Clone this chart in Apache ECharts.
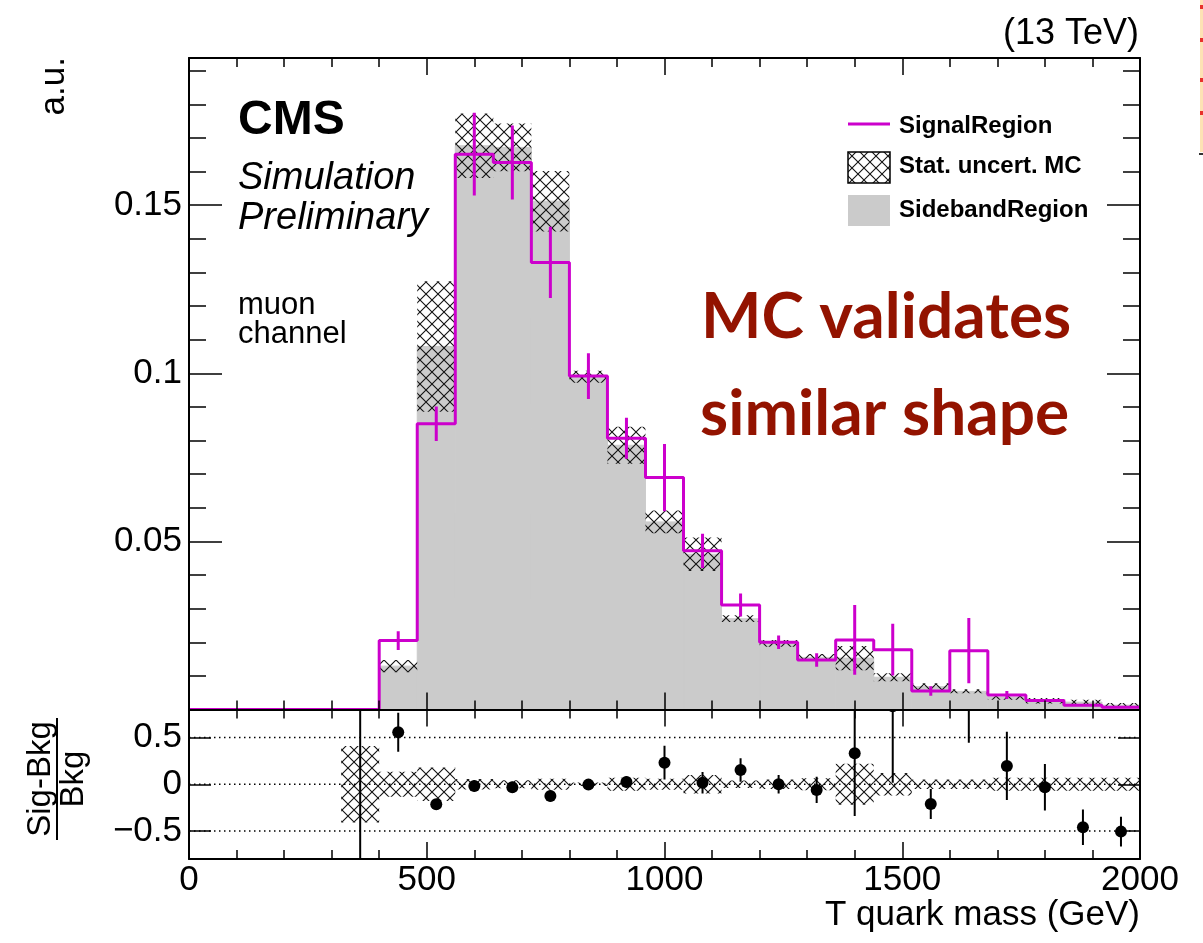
<!DOCTYPE html>
<html>
<head>
<meta charset="utf-8">
<script src="https://cdn.jsdelivr.net/npm/echarts@6/dist/echarts.min.js"></script>
<style>
html,body{margin:0;padding:0;background:#fff;}
#c{width:1203px;height:943px;}
</style>
</head>
<body>
<div id="c"></div>
<script>
// ---------------- data ----------------
const binEdges = [0,80,160,240,320,400,480,560,640,720,800,880,960,1040,1120,1200,1280,1360,1440,1520,1600,1680,1760,1840,1920,2000];
const signalRegion = [0,0,0,0,0,0.0205,0.0850,0.1652,0.1627,0.1330,0.0992,0.0807,0.0690,0.0472,0.0311,0.0200,0.0147,0.0207,0.0178,0.0055,0.0175,0.0043,0.0027,0.0013,0.0007];
const signalErr = [0,0,0,0,0,0.0028,0.0051,0.0123,0.0110,0.0106,0.0068,0.0061,0.0100,0.0051,0.0034,0.0020,0.0020,0.0104,0.0077,0.0014,0.0097,0.0012,0.0004,0.0002,0.0001];
const sidebandRegion = [0,0,0,0,0.0003,0.0129,0.1080,0.1677,0.1672,0.1512,0.0990,0.0786,0.0558,0.0462,0.0270,0.0197,0.0155,0.0153,0.0096,0.0068,0.0054,0.0037,0.0026,0.0022,0.0013];
const statUncertMC = [0,0,0,0,0.0001,0.0018,0.0194,0.0096,0.0071,0.0090,0.0018,0.0055,0.0034,0.0050,0.0010,0.0010,0.0010,0.0036,0.0012,0.0010,0.0006,0.0008,0.0008,0.0007,0.0006];
const ratioValue = [null,null,null,null,-1.0,0.557,-0.214,-0.018,-0.032,-0.125,-0.004,0.025,0.231,0.017,0.153,0.000,-0.061,0.332,0.835,-0.211,2.2,0.196,-0.032,-0.460,-0.507];
const ratioErr = [null,null,null,null,2.0,0.209,0.05,0.06,0.06,0.06,0.04,0.06,0.18,0.115,0.125,0.10,0.14,0.672,0.82,0.16,1.755,0.365,0.25,0.19,0.16];
const ratioBand = [0,0,0,0,0.41,0.135,0.18,0.057,0.042,0.06,0.02,0.07,0.06,0.10,0.04,0.05,0.065,0.22,0.12,0.05,0.05,0.07,0.07,0.07,0.07];
const ratioRefLines = [0.5, 0, -0.5];
const ratioTicks = [-0.5, 0, 0.5];
const X_MIN = 0, X_MAX = 2000, Y_MAX = 0.1938, R_MIN = -0.8, R_MAX = 0.8;

// ---------------- styles ----------------
const FONT = '"Liberation Sans", Arial, Helvetica, sans-serif';
const MAG = '#cc00cc';
const GRAY = '#cbcbcb';
const hatchCanvas = (function(){
  const s = 12, c = document.createElement('canvas'); c.width = s; c.height = s;
  const g = c.getContext('2d'); g.strokeStyle = '#111'; g.lineWidth = 1.1;
  g.beginPath();
  g.moveTo(-2,-2); g.lineTo(s+2,s+2);
  g.moveTo(s+2,-2); g.lineTo(-2,s+2);
  g.stroke();
  return c;
})();
const hatchFill = {image: hatchCanvas, repeat: 'repeat'};

// ---------------- derived tables ----------------
const grayData = [], hatchData = [], stepData = [], sigErrData = [], bandData = [], ratioData = [];
signalRegion.forEach((v, i) => {
  const lo = binEdges[i], hi = binEdges[i+1], c = (lo + hi) / 2;
  stepData.push([lo, v]); stepData.push([hi, v]);
  if (sidebandRegion[i] > 0) grayData.push([lo, hi, 0, sidebandRegion[i]]);
  if (statUncertMC[i] > 0) hatchData.push([lo, hi, sidebandRegion[i] - statUncertMC[i], sidebandRegion[i] + statUncertMC[i]]);
  if (v > 0) sigErrData.push([c, v - signalErr[i], v + signalErr[i]]);
  if (ratioBand[i] > 0) bandData.push([lo, hi, -ratioBand[i], ratioBand[i]]);
  if (ratioValue[i] !== null) ratioData.push([c, ratioValue[i], ratioErr[i]]);
});
const refLineData = ratioRefLines.map(v => [X_MIN, X_MAX, v]);

function rectRenderer(fill, seam) {
  return function(params, api) {
    const a = api.coord([api.value(0), api.value(3)]);
    const b = api.coord([api.value(1), api.value(2)]);
    const style = {fill: fill};
    if (seam) { style.stroke = fill; style.lineWidth = 1; }
    return {type: 'rect', shape: {x: a[0], y: a[1], width: b[0] - a[0], height: b[1] - a[1]}, style: style};
  };
}

// ---------------- axes ----------------
const axLine = {show: true, onZero: false, lineStyle: {color: '#000', width: 2}};
function xAx(gridIndex, position, labels) {
  return {
    type: 'value', gridIndex, position, min: X_MIN, max: X_MAX, interval: 500, z: 10,
    axisLine: axLine,
    axisTick: {show: true, inside: true, length: 17, lineStyle: {color: '#000', width: 1.5}},
    minorTick: {show: true, splitNumber: 5, length: 9, lineStyle: {color: '#000', width: 1.5}},
    splitLine: {show: false}, minorSplitLine: {show: false},
    axisLabel: {show: labels, color: '#000', fontSize: 35, fontFamily: FONT, margin: 4, formatter: v => String(v)}
  };
}
function yMain(position, labels) {
  return {
    type: 'value', gridIndex: 0, position, min: 0, max: Y_MAX, interval: 0.05, z: 10,
    axisLine: axLine,
    axisTick: {show: true, inside: true, length: 33, lineStyle: {color: '#000', width: 1.5}},
    minorTick: {show: true, splitNumber: 5, length: 17, lineStyle: {color: '#000', width: 1.5}},
    splitLine: {show: false}, minorSplitLine: {show: false},
    axisLabel: {show: labels, color: '#000', fontSize: 35, fontFamily: FONT, margin: 7, showMinLabel: false, showMaxLabel: false}
  };
}
function yRatio(position, labels) {
  return {
    type: 'value', gridIndex: 1, position, min: R_MIN, max: R_MAX, z: 10,
    axisLine: axLine,
    axisTick: {show: true, inside: true, length: 22, customValues: ratioTicks, lineStyle: {color: '#000', width: 1.5}},
    splitLine: {show: false},
    axisLabel: {show: labels, customValues: ratioTicks, color: '#000', fontSize: 35, fontFamily: FONT, margin: 7,
      formatter: v => (Math.abs(v) < 1e-9 ? '0' : (v < 0 ? '\u2212' + String(-v) : String(v)))}
  };
}

// ---------------- text & legend graphics ----------------
function txt(text, x, y, size, opts) {
  opts = opts || {};
  return {
    type: 'text', x: x, y: y, rotation: opts.rotation || 0, z: 100,
    style: {text: text, fill: opts.color || '#000', align: opts.align || 'left', verticalAlign: 'middle',
      font: (opts.style || '') + ' ' + (opts.weight || 'normal') + ' ' + size + 'px ' + (opts.family || FONT)}
  };
}
const graphics = [
  txt('CMS', 238, 121, 48, {weight: 'bold'}),
  txt('Simulation', 238, 178, 38, {style: 'italic'}),
  txt('Preliminary', 238, 218, 38, {style: 'italic'}),
  txt('muon', 238, 305, 31),
  txt('channel', 238, 334, 31),
  txt('(13 TeV)', 1139, 34, 36, {align: 'right'}),
  txt('T quark mass (GeV)', 1140, 915, 35, {align: 'right'}),
  txt('a.u.', 54, 57, 35, {align: 'right', rotation: Math.PI / 2}),
  txt('Sig-Bkg', 41, 779, 33, {align: 'center', rotation: Math.PI / 2}),
  txt('Bkg', 74, 779, 33, {align: 'center', rotation: Math.PI / 2}),
  {type: 'line', z: 100, shape: {x1: 57, y1: 718, x2: 57, y2: 840}, style: {stroke: '#000', lineWidth: 2}},
  txt('MC validates', 701, 317, 64, {weight: 'bold', family: 'Lato, "Open Sans", sans-serif', color: '#931300'}),
  txt('similar shape', 700, 414, 64, {weight: 'bold', family: 'Lato, "Open Sans", sans-serif', color: '#931300'}),
  // legend
  {type: 'line', z: 100, shape: {x1: 848, y1: 124, x2: 890, y2: 124}, style: {stroke: MAG, lineWidth: 3}},
  {type: 'rect', z: 100, shape: {x: 848, y: 152, width: 42, height: 31}, style: {fill: hatchFill, stroke: '#000', lineWidth: 1.5}},
  {type: 'rect', z: 100, shape: {x: 848, y: 195, width: 42, height: 31}, style: {fill: GRAY}},
  txt('SignalRegion', 899, 126, 24, {weight: 'bold'}),
  txt('Stat. uncert. MC', 899, 166, 24, {weight: 'bold'}),
  txt('SidebandRegion', 899, 210, 24, {weight: 'bold'}),
  // cropped neighbour at the right edge
  {type: 'rect', z: 100, shape: {x: 1200, y: 0, width: 3, height: 152}, style: {fill: '#fde2b4'}},
  {type: 'rect', z: 100, shape: {x: 1200, y: 5, width: 3, height: 4}, style: {fill: '#e8322a'}},
  {type: 'rect', z: 100, shape: {x: 1200, y: 38, width: 3, height: 4}, style: {fill: '#e8322a'}},
  {type: 'rect', z: 100, shape: {x: 1200, y: 78, width: 3, height: 4}, style: {fill: '#e8322a'}},
  {type: 'rect', z: 100, shape: {x: 1200, y: 111, width: 3, height: 4}, style: {fill: '#e8322a'}},
  {type: 'rect', z: 100, shape: {x: 1199, y: 153, width: 4, height: 2}, style: {fill: '#333'}}
];

// ---------------- chart ----------------
const chart = echarts.init(document.getElementById('c'), null, {renderer: 'canvas'});
chart.setOption({
  animation: false,
  backgroundColor: '#fff',
  grid: [
    {left: 189, top: 58, width: 951, height: 651.5, containLabel: false, outerBoundsMode: 'none'},
    {left: 189, top: 709.5, width: 951, height: 149.5, containLabel: false, outerBoundsMode: 'none'}
  ],
  xAxis: [xAx(0, 'bottom', false), xAx(0, 'top', false), xAx(1, 'top', false), xAx(1, 'bottom', true)],
  yAxis: [yMain('left', true), yMain('right', false), yRatio('left', true), yRatio('right', false)],
  graphic: graphics,
  series: [
    {type: 'custom', name: 'SidebandRegion', xAxisIndex: 0, yAxisIndex: 0, z: 2, clip: true,
      encode: {x: [0, 1], y: [2, 3]}, data: grayData, renderItem: rectRenderer(GRAY, true)},
    {type: 'custom', name: 'Stat. uncert. MC', xAxisIndex: 0, yAxisIndex: 0, z: 3, clip: true,
      encode: {x: [0, 1], y: [2, 3]}, data: hatchData, renderItem: rectRenderer(hatchFill, false)},
    {type: 'line', name: 'SignalRegion', xAxisIndex: 0, yAxisIndex: 0, z: 4, clip: true,
      data: stepData, symbol: 'none', showSymbol: false, lineStyle: {color: MAG, width: 3}},
    {type: 'custom', name: 'SignalErr', xAxisIndex: 0, yAxisIndex: 0, z: 5, clip: true,
      encode: {x: 0, y: [1, 2]}, data: sigErrData,
      renderItem: function(params, api) {
        const a = api.coord([api.value(0), api.value(1)]), b = api.coord([api.value(0), api.value(2)]);
        return {type: 'line', shape: {x1: a[0], y1: a[1], x2: b[0], y2: b[1]}, style: {stroke: MAG, lineWidth: 3}};
      }},
    {type: 'custom', name: 'RatioBand', xAxisIndex: 3, yAxisIndex: 2, z: 2, clip: true,
      encode: {x: [0, 1], y: [2, 3]}, data: bandData, renderItem: rectRenderer(hatchFill, false)},
    {type: 'custom', name: 'RefLines', xAxisIndex: 3, yAxisIndex: 2, z: 3, clip: true,
      encode: {x: [0, 1], y: 2}, data: refLineData,
      renderItem: function(params, api) {
        const a = api.coord([api.value(0), api.value(2)]), b = api.coord([api.value(1), api.value(2)]);
        return {type: 'line', shape: {x1: a[0], y1: a[1], x2: b[0], y2: b[1]}, style: {stroke: '#000', lineWidth: 1.5, lineDash: [1.5, 3.5]}};
      }},
    {type: 'custom', name: 'Ratio', xAxisIndex: 3, yAxisIndex: 2, z: 5, clip: true,
      encode: {x: 0, y: 1}, data: ratioData,
      renderItem: function(params, api) {
        const x = api.value(0), v = api.value(1), e = api.value(2);
        const p = api.coord([x, v]), a = api.coord([x, v - e]), b = api.coord([x, v + e]);
        return {type: 'group', children: [
          {type: 'line', shape: {x1: a[0], y1: a[1], x2: b[0], y2: b[1]}, style: {stroke: '#000', lineWidth: 2}},
          {type: 'circle', shape: {cx: p[0], cy: p[1], r: 6}, style: {fill: '#000'}}
        ]};
      }}
  ]
});
</script>
</body>
</html>
